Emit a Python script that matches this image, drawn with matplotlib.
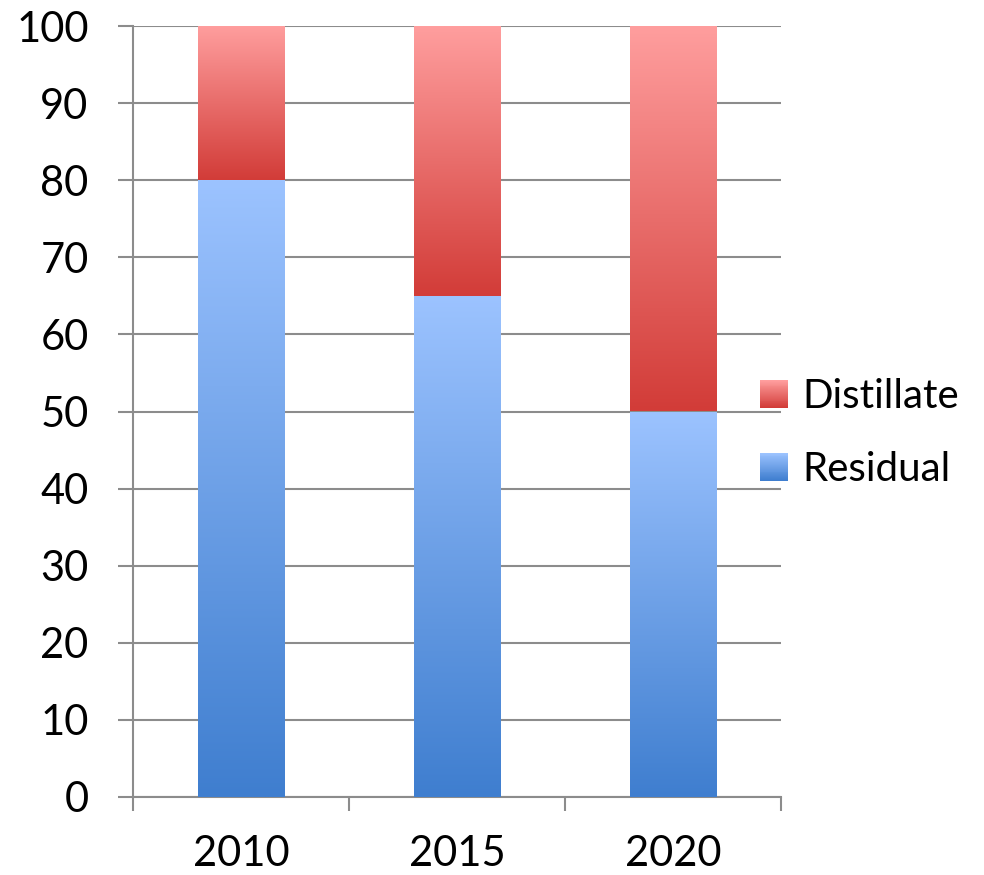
import numpy as np
import matplotlib.pyplot as plt
from matplotlib.patches import Rectangle
from matplotlib.colors import LinearSegmentedColormap
from matplotlib.legend_handler import HandlerBase

years = ['2010', '2015', '2020']
residual = [80, 65, 50]
distillate = [20, 35, 50]

plt.rcParams['font.family'] = ['Lato', 'DejaVu Sans']

# gradient ends (bottom colour, top colour)
res_cols = ('#3f7ecf', '#9cc3ff')
dist_cols = ('#d23c38', '#ff9e9e')


def grad_fill(ax, patch, cols):
    x0, y0 = patch.get_x(), patch.get_y()
    w, h = patch.get_width(), patch.get_height()
    cmap = LinearSegmentedColormap.from_list('g', list(cols))
    grad = np.linspace(0, 1, 256).reshape(-1, 1)
    im = ax.imshow(grad, cmap=cmap, aspect='auto', origin='lower',
                   extent=(x0, x0 + w, y0, y0 + h), zorder=3)
    im.set_clip_path(patch)
    patch.set_facecolor('none')


class GradHandler(HandlerBase):
    def __init__(self, cols, n=30):
        super().__init__()
        self.cols = cols
        self.n = n

    def create_artists(self, legend, orig_handle, xdescent, ydescent,
                       width, height, fontsize, trans):
        cmap = LinearSegmentedColormap.from_list('g', list(self.cols))
        arts = []
        dh = height / self.n
        for i in range(self.n):
            r = Rectangle((-xdescent, -ydescent + i * dh), width, dh * 1.05,
                          facecolor=cmap(i / (self.n - 1)), edgecolor='none',
                          transform=trans)
            arts.append(r)
        return arts


fig = plt.figure(figsize=(9.84, 8.75), dpi=100)
ax = fig.add_axes([133 / 984, 78 / 875, (781 - 133) / 984, (797 - 26) / 875])

x = np.arange(len(years))
w = 0.4
b1 = ax.bar(x, residual, w, color='none', edgecolor='none', zorder=3)
b2 = ax.bar(x, distillate, w, bottom=residual, color='none',
            edgecolor='none', zorder=3)
for p in b1:
    grad_fill(ax, p, res_cols)
for p in b2:
    grad_fill(ax, p, dist_cols)

ax.set_xlim(-0.5, 2.5)
ax.set_ylim(0, 100)
ax.set_yticks(np.arange(0, 101, 10))
ax.set_xticks(x)
ax.set_xticklabels(years)
ax.set_xticks([-0.5, 0.5, 1.5, 2.5], minor=True)

grid_c = '#8c8c8c'
ax.yaxis.grid(True, color=grid_c, linewidth=1.5, zorder=1)
ax.set_axisbelow(True)
for s in ['top', 'right']:
    ax.spines[s].set_visible(False)
for s in ['left', 'bottom']:
    ax.spines[s].set_color(grid_c)
    ax.spines[s].set_linewidth(1.5)

ax.tick_params(axis='y', length=11, width=1.5, color=grid_c, pad=21,
               labelsize=30)
ax.tick_params(axis='x', which='major', length=0, pad=27, labelsize=30)
ax.tick_params(axis='x', which='minor', length=10, width=1.5, color=grid_c)

h1 = Rectangle((0, 0), 1, 1)
h2 = Rectangle((0, 0), 1, 1)
fig.legend([h2, h1], ['Distillate', 'Residual'],
           handler_map={h2: GradHandler(dist_cols), h1: GradHandler(res_cols)},
           loc='center left', bbox_to_anchor=(760 / 984, 1 - 433 / 875),
           frameon=False, fontsize=29, handlelength=0.7, handleheight=0.7,
           handletextpad=0.35, labelspacing=0.89, borderpad=0,
           borderaxespad=0)

fig.savefig('out.png', dpi=100)
